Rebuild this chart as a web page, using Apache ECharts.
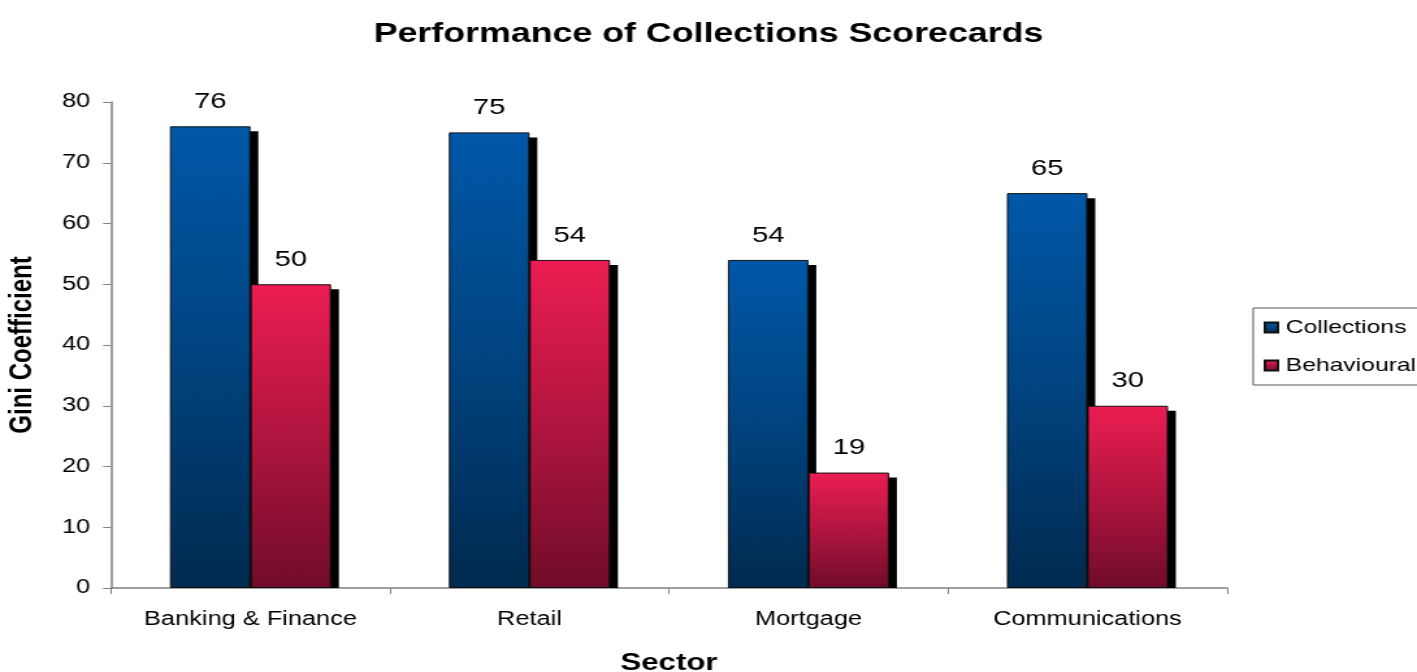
<!DOCTYPE html>
<html>
<head>
<meta charset="utf-8">
<script src="https://cdn.jsdelivr.net/npm/echarts@6/dist/echarts.min.js"></script>
<style>
  html, body { margin: 0; padding: 0; background: #fff; overflow: hidden; }
  #wrap { width: 1417px; height: 672px; overflow: hidden; }
  /* the chart is drawn on a narrower canvas and widened horizontally */
  #chart { width: 1090px; height: 672px; transform: scaleX(1.3); transform-origin: 0 0; }
</style>
</head>
<body>
<div id="wrap"><div id="chart"></div></div>
<script>
// Sectors and Gini coefficients per scorecard type
const categories = ['Banking & Finance', 'Retail', 'Mortgage', 'Communications'];
const collections = [76, 75, 54, 65];
const behavioural = [50, 54, 19, 30];
const seriesNames = ['Collections', 'Behavioural'];
const yMin = 0, yMax = 80, yStep = 10;

const FONT = '"Liberation Sans", Arial, sans-serif';
const BAR_W = 62;
const SHADOW_DX = 6;
const SHADOW_DY = 5;

const blueFill = new echarts.graphic.LinearGradient(0, 0, 0, 1, [
  { offset: 0, color: '#0058a8' },
  { offset: 0.5, color: '#00437f' },
  { offset: 1, color: '#002a4f' }
]);
const redFill = new echarts.graphic.LinearGradient(0, 0, 0, 1, [
  { offset: 0, color: '#ec1d53' },
  { offset: 0.5, color: '#b0153f' },
  { offset: 1, color: '#700c29' }
]);

// black drop shadow behind each bar, offset right and down, cut at the baseline
function shadowSeries(values, slot) {
  return {
    type: 'custom',
    z: 1,
    silent: true,
    data: values.map((v, i) => [i, v]),
    encode: { x: 0, y: 1 },
    renderItem: function (params, api) {
      const i = api.value(0), v = api.value(1);
      const top = api.coord([i, v]);
      const base = api.coord([i, 0]);
      const x = top[0] + (slot - 1) * BAR_W + SHADOW_DX;
      return {
        type: 'rect',
        shape: { x: x, y: top[1] + SHADOW_DY, width: BAR_W, height: base[1] - top[1] - SHADOW_DY },
        style: { fill: '#000' }
      };
    }
  };
}

function barSeries(name, values, fill) {
  return {
    name: name,
    type: 'bar',
    z: 2,
    barWidth: BAR_W,
    barGap: '0%',
    data: values,
    itemStyle: { color: fill, borderColor: '#111', borderWidth: 1 },
    label: {
      show: true,
      position: 'top',
      distance: 13,
      color: '#000',
      fontFamily: FONT,
      fontSize: 22.5
    }
  };
}

const chart = echarts.init(document.getElementById('chart'), null, { renderer: 'canvas' });
chart.setOption({
  backgroundColor: '#fff',
  animation: false,
  title: {
    text: 'Performance of Collections Scorecards',
    left: 'center',
    top: 15,
    textStyle: { fontFamily: FONT, fontSize: 27.5, fontWeight: 'bold', color: '#000' }
  },
  legend: {
    data: seriesNames,
    orient: 'vertical',
    left: 964,
    top: 308,
    padding: [10, 8, 10, 8],
    itemGap: 19,
    itemWidth: 10,
    itemHeight: 10,
    icon: 'rect',
    borderColor: '#555',
    borderWidth: 1,
    textStyle: { fontFamily: FONT, fontSize: 19, color: '#000', padding: [0, 0, 0, 1] }
  },
  grid: {
    left: 85.4, right: 146.2, top: 102, bottom: 84,
    containLabel: false,
    outerBoundsMode: 'none'
  },
  xAxis: {
    type: 'category',
    data: categories,
    name: 'Sector',
    nameLocation: 'middle',
    nameGap: 63,
    nameTextStyle: { fontFamily: FONT, fontSize: 24, fontWeight: 'bold', color: '#000' },
    axisLine: { show: true, lineStyle: { color: '#808080', width: 1.5 } },
    axisTick: { show: true, alignWithLabel: false, length: 6, lineStyle: { color: '#808080' } },
    axisLabel: { fontFamily: FONT, fontSize: 19.5, color: '#000', margin: 22 },
    splitLine: { show: false }
  },
  yAxis: {
    type: 'value',
    min: yMin,
    max: yMax,
    interval: yStep,
    name: 'Gini Coefficient',
    nameLocation: 'middle',
    nameRotate: 90,
    nameGap: 56,
    nameTextStyle: { fontFamily: FONT, fontSize: 24, fontWeight: 'bold', color: '#000' },
    axisLine: { show: true, lineStyle: { color: '#808080', width: 1.5 } },
    axisTick: { show: true, length: 6, lineStyle: { color: '#808080' } },
    axisLabel: { fontFamily: FONT, fontSize: 19.5, color: '#000', margin: 16 },
    splitLine: { show: false }
  },
  series: [
    shadowSeries(collections, 0),
    shadowSeries(behavioural, 1),
    barSeries(seriesNames[0], collections, blueFill),
    barSeries(seriesNames[1], behavioural, redFill)
  ]
});
</script>
</body>
</html>
